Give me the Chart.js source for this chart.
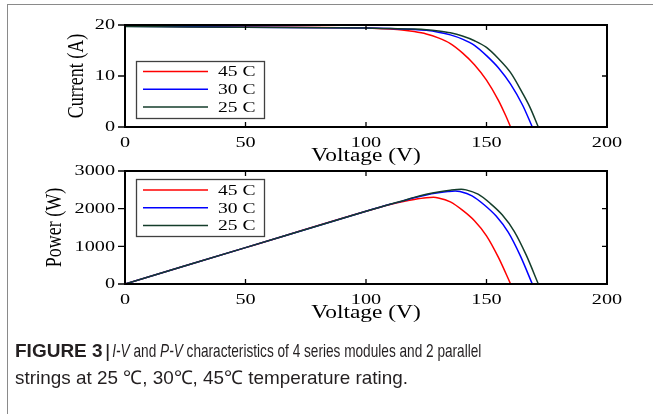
<!DOCTYPE html>
<html>
<head>
<meta charset="utf-8">
<script src="https://cdn.jsdelivr.net/npm/chart.js@4/dist/chart.umd.min.js"></script>
<style>
  body { margin: 0; background: #fff; width: 653px; height: 414px; overflow: hidden; position: relative; }
  .frameTop { position: absolute; left: 8px; top: 4px; width: 645px; height: 0; border-top: 1.5px solid #8a8a8a; }
  .frameLeft { position: absolute; left: 7px; top: 4px; width: 0; height: 410px; border-left: 1.5px solid #8a8a8a; }
  canvas { position: absolute; left: 0; }
  #ivChart { top: 0; }
  #pvChart { top: 146px; }
  .capLine {
    position: absolute; left: 15px; white-space: nowrap;
    font-family: "Liberation Sans", Arial, sans-serif;
    font-size: 19px; line-height: 22px; color: #231f20;
  }
  .capLine span { display: inline-block; transform-origin: 0 0; }
  #cap1 { top: 340px; }
  #cap2 { top: 367px; }
</style>
</head>
<body>
<div class="frameTop"></div>
<div class="frameLeft"></div>
<canvas id="ivChart" width="653" height="170"></canvas>
<canvas id="pvChart" width="653" height="181"></canvas>
<div class="capLine" id="cap1"><b>FIGURE 3</b><span id="cap1rest">&#8201;<b>|</b>&#8201;<i>I-V</i> and <i>P-V</i> characteristics of 4 series modules and 2 parallel</span></div>
<div class="capLine" id="cap2"><span id="cap2rest">strings at 25 ℃, 30℃, 45℃ temperature rating.</span></div>

<script>
// series names
const seriesLabels = ["45 C", "30 C", "25 C"];
const seriesColors = ["#ff0000", "#0000ff", "#143d2b"];

// I-V curves (voltage, current)
const ivVolts45 = [0, 50, 100, 110, 115, 120, 125, 130, 135, 140, 145, 150, 155, 158, 160];
const ivAmps45 = [19.8, 19.6, 19.4, 19.21, 19.04, 18.72, 18.25, 17.48, 16.36, 14.54, 12.22, 9.2, 5.18, 2.2, 0];
const ivVolts30 = [0, 50, 100, 110, 120, 125, 130, 135, 140, 145, 150, 155, 160, 165, 169];
const ivAmps30 = [19.75, 19.58, 19.4, 19.3, 19.14, 18.95, 18.6, 18.06, 17.24, 16.02, 14.0, 11.58, 8.4, 4.26, 0];
const ivVolts25 = [0, 50, 100, 110, 120, 125, 130, 135, 140, 145, 150, 155, 160, 165, 168, 171.5];
const ivAmps25 = [19.7, 19.55, 19.4, 19.3, 19.2, 19.08, 18.83, 18.46, 17.84, 16.92, 15.6, 13.38, 10.66, 6.6, 3.9, 0];

// P-V curves (voltage, power)
const pvVolts45 = [0, 50, 100, 110, 115, 120, 125, 128, 130, 135, 140, 145, 150, 155, 160];
const pvWatts45 = [0, 965, 1930, 2110, 2185, 2245, 2290, 2300, 2285, 2180, 1960, 1680, 1280, 700, 0];
const pvVolts30 = [0, 50, 100, 110, 115, 120, 125, 130, 134, 137, 139, 144, 149, 154, 159, 164, 169];
const pvWatts30 = [0, 965, 1930, 2115, 2200, 2290, 2365, 2420, 2455, 2470, 2454, 2341, 2105, 1804, 1375, 752, 0];
const pvVolts25 = [0, 50, 100, 110, 115, 120, 125, 130, 135, 139.5, 141.5, 146.5, 151.5, 156.5, 161.5, 166.5, 171.5];
const pvWatts25 = [0, 965, 1930, 2115, 2205, 2300, 2380, 2445, 2492, 2515, 2499, 2384, 2143, 1837, 1400, 765, 0];

const serif = "'Liberation Serif', 'Times New Roman', serif";
const stretch = 1.35; // glyphs in the figure are wide

const toPoints = (xs, ys) => xs.map((v, i) => ({ x: v, y: ys[i] }));

const makeDatasets = (pairs) => pairs.map((p, i) => ({
    label: seriesLabels[i],
    data: toPoints(p[0], p[1]),
    borderColor: seriesColors[i],
    borderWidth: 1.5,
    pointRadius: 0,
    fill: false,
    cubicInterpolationMode: "monotone",
    order: 2 - i,
}));

const wideText = (ctx, text, x, y, align, sx, rotate) => {
    ctx.save();
    ctx.translate(x, y);
    ctx.scale(sx, 1);
    if (rotate) ctx.rotate(-Math.PI / 2);
    ctx.textAlign = align;
    ctx.textBaseline = "middle";
    ctx.fillText(text, 0, 0);
    ctx.restore();
};

// box around plot, ticks, labels, boxed legend
const boxPlugin = {
    id: "boxFrame",
    afterDatasetsDraw(chart, args, opts) {
        const { ctx, chartArea } = chart;
        const { left, right, top, bottom } = chartArea;
        const xs = chart.scales.x;
        const ys = chart.scales.y;
        ctx.save();
        ctx.strokeStyle = "#000";
        ctx.lineWidth = 2;
        ctx.strokeRect(left, top, right - left, bottom - top);
        ctx.lineWidth = 1.3;
        ctx.beginPath();
        xs.ticks.forEach((t) => {
            const px = xs.getPixelForValue(t.value);
            ctx.moveTo(px, bottom); ctx.lineTo(px, bottom - 5);
            ctx.moveTo(px, top); ctx.lineTo(px, top + 5);
        });
        ys.ticks.forEach((t) => {
            const py = ys.getPixelForValue(t.value);
            ctx.moveTo(left, py); ctx.lineTo(left - 7, py);
            ctx.moveTo(right, py); ctx.lineTo(right - 5, py);
        });
        ctx.stroke();

        // tick labels and titles
        ctx.fillStyle = "#000";
        ctx.font = "15px " + serif;
        xs.ticks.forEach((t) => {
            wideText(ctx, String(t.value), xs.getPixelForValue(t.value), bottom + 16.5, "center", stretch, false);
        });
        ys.ticks.forEach((t) => {
            wideText(ctx, String(t.value), left - 10, ys.getPixelForValue(t.value) + 0.5, "right", stretch, false);
        });
        ctx.font = "18px " + serif;
        wideText(ctx, opts.xTitle, (left + right) / 2, bottom + 29, "center", 1.3, false);
        wideText(ctx, opts.yTitle, opts.yTitleX, (top + bottom) / 2, "center", 1.3, true);

        // legend
        ctx.fillStyle = "#fff";
        ctx.fillRect(opts.x, opts.y, opts.w, opts.h);
        ctx.strokeStyle = "#404040";
        ctx.lineWidth = 1.3;
        ctx.strokeRect(opts.x + 0.5, opts.y + 0.5, opts.w, opts.h);
        ctx.font = "14.5px " + serif;
        chart.data.datasets.forEach((ds, i) => {
            const ry = opts.y + opts.firstRow + i * opts.rowGap;
            ctx.strokeStyle = ds.borderColor;
            ctx.lineWidth = 1.5;
            ctx.beginPath();
            ctx.moveTo(opts.x + 7, ry);
            ctx.lineTo(opts.x + 72, ry);
            ctx.stroke();
            ctx.fillStyle = "#000";
            wideText(ctx, ds.label, opts.x + 82, ry + 1, "left", stretch, false);
        });
        ctx.restore();
    },
};

const makeChart = (canvasId, datasets, yMax, yStep, legendBox) => new Chart(
    document.getElementById(canvasId), {
    type: "line",
    data: { datasets: datasets },
    options: {
        responsive: false,
        animation: false,
        layout: { padding: { left: 0, right: 46, top: 25, bottom: 0 } },
        plugins: {
            legend: { display: false },
            tooltip: { enabled: false },
            boxFrame: legendBox,
        },
        scales: {
            x: {
                type: "linear", min: 0, max: 200,
                ticks: { stepSize: 50, display: false },
                grid: { display: false, drawTicks: false },
                border: { display: false },
                afterFit: (s) => { s.height = 43; },
            },
            y: {
                min: 0, max: yMax,
                ticks: { stepSize: yStep, display: false },
                grid: { display: false, drawTicks: false },
                border: { display: false },
                afterFit: (s) => { s.width = 125; },
            },
        },
    },
    plugins: [boxPlugin],
});

makeChart("ivChart",
    makeDatasets([[ivVolts45, ivAmps45], [ivVolts30, ivAmps30], [ivVolts25, ivAmps25]]),
    20, 10,
    { x: 136, y: 61, w: 128, h: 57, firstRow: 10.5, rowGap: 17.8,
      xTitle: "Voltage (V)", yTitle: "Current (A)", yTitleX: 77 });

makeChart("pvChart",
    makeDatasets([[pvVolts45, pvWatts45], [pvVolts30, pvWatts30], [pvVolts25, pvWatts25]]),
    3000, 1000,
    { x: 136, y: 33, w: 128, h: 57, firstRow: 11, rowGap: 17.7,
      xTitle: "Voltage (V)", yTitle: "Power (W)", yTitleX: 55 });

// squeeze caption text so each line ends where it does in the figure
const fitSpan = (id, rightEdge) => {
    const el = document.getElementById(id);
    const r = el.getBoundingClientRect();
    el.style.transform = "scaleX(" + ((rightEdge - r.left) / r.width) + ")";
};
fitSpan("cap1rest", 481);
fitSpan("cap2rest", 408);
</script>
</body>
</html>
